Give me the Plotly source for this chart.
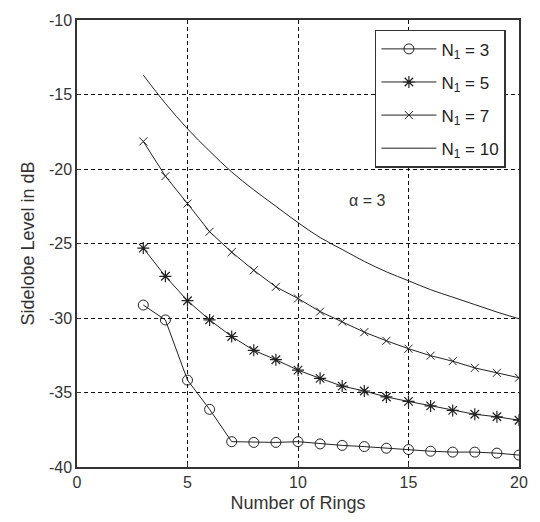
import plotly.graph_objects as go

rings = list(range(3, 21))
n3 = [-29.13, -30.13, -34.17, -36.13, -38.3, -38.35, -38.35, -38.3, -38.45, -38.55, -38.63, -38.74, -38.83, -38.94, -39.0, -39.0, -39.07, -39.2]
n5 = [-25.31, -27.2, -28.84, -30.13, -31.24, -32.17, -32.8, -33.5, -34.05, -34.57, -34.9, -35.3, -35.6, -35.9, -36.2, -36.46, -36.63, -36.86]
n7 = [-18.15, -20.48, -22.32, -24.21, -25.58, -26.8, -27.91, -28.69, -29.57, -30.24, -30.95, -31.53, -32.06, -32.53, -32.9, -33.35, -33.68, -34.01]
n10 = [-13.7, -15.6, -17.3, -18.8, -20.2, -21.4, -22.5, -23.6, -24.6, -25.4, -26.2, -26.9, -27.5, -28.1, -28.6, -29.1, -29.6, -30.05]

xticks = [0, 5, 10, 15, 20]
yticks = [-40, -35, -30, -25, -20, -15, -10]
yticklabels = ["-40", "-35", "-30", "-25", "-20", "-15", "-10"]

FONT = "Liberation Sans, Arial, sans-serif"
fig = go.Figure()

series = [
    ("N<sub>1</sub> = 3", n3, "lines+markers", dict(symbol="circle-open", size=10, color="#222", line=dict(width=1, color="#222"))),
    ("N<sub>1</sub> = 5", n5, "lines+markers", dict(symbol="asterisk-open", size=10, color="#222", line=dict(width=1.2, color="#222"))),
    ("N<sub>1</sub> = 7", n7, "lines+markers", dict(symbol="x-thin-open", size=8, color="#222", line=dict(width=1, color="#222"))),
    ("N<sub>1</sub> = 10", n10, "lines", None),
]
for i, (name, ys, mode, mk) in enumerate(series):
    kw = dict(x=rings, y=ys, mode=mode, name=name, legendgroup=f"g{i}",
              line=dict(color="#222", width=1, shape="spline" if mode == "lines" else "linear"))
    if mk:
        kw["marker"] = mk
    fig.add_trace(go.Scatter(**kw))

fig.add_annotation(x=13.1, y=-22.1, text="α = 3", showarrow=False,
                   font=dict(family=FONT, size=16, color="#333"))

axis_common = dict(showline=True, linecolor="#333", linewidth=1.5, mirror=True,
                   showgrid=True, gridcolor="#111", gridwidth=1, griddash="4px,3px",
                   ticks="inside", ticklen=4, tickcolor="#333", zeroline=False,
                   tickfont=dict(family=FONT, size=16, color="#333"))

fig.update_xaxes(range=[0, 20], tickvals=xticks,
                 title=dict(text="Number of Rings", font=dict(family=FONT, size=18, color="#333"), standoff=6),
                 **axis_common)
fig.update_yaxes(range=[-40, -10], tickvals=yticks, ticktext=yticklabels,
                 title=dict(text="Sidelobe Level in dB", font=dict(family=FONT, size=18, color="#333"), standoff=10),
                 **axis_common)

fig.update_layout(
    width=540, height=522,
    margin=dict(l=77, r=13, t=19, b=52),
    paper_bgcolor="white", plot_bgcolor="white",
    font=dict(family=FONT, size=16, color="#333"),
    showlegend=True,
    legend=dict(x=0.674, y=0.978, xanchor="left", yanchor="top",
                bgcolor="white", bordercolor="#333", borderwidth=1.5,
                traceorder="grouped", tracegroupgap=8,
                font=dict(family=FONT, size=17, color="#222"),
                itemwidth=55),
)

fig.write_html("out.html")
